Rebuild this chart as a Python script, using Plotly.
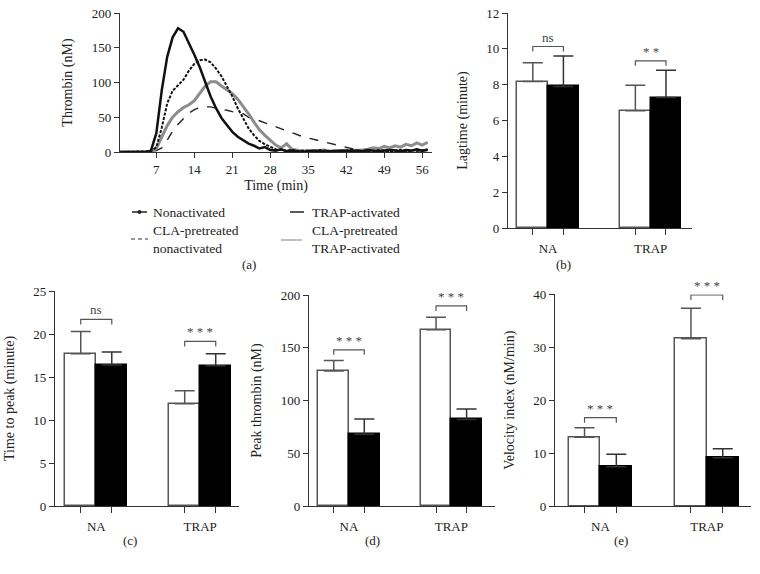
import plotly.graph_objects as go

# ---- panel (a): thrombin generation curves ----
time_min = list(range(0, 58))
trap_act = [0, 0, 0, 0, 0, 0, 2, 27, 89, 137, 165, 178, 173, 157, 140, 122, 101, 80, 63, 49,
            39, 29, 22, 17, 12, 9, 5, 7, 3, 2, 4, 1, 2, 1, 0, 1, 2, 1, 1, 0,
            1, 2, 1, 1, 2, 1, 3, 2, 1, 2, 3, 2, 1, 3, 2, 4, 2, 3]
non_act = [0, 0, 0, 0, 0, 0, 1, 7, 35, 70, 88, 96, 104, 117, 127, 132, 133, 129, 120, 109,
           95, 80, 63, 48, 34, 24, 16, 11, 7, 4, 3, 2, 3, 1, 2, 2, 1, 3, 2, 1,
           2, 1, 2, 3, 1, 2, 2, 1, 3, 2, 1, 2, 3, 1, 2, 3, 2, 4]
cla_non = [0, 0, 0, 0, 0, 0, 0, 2, 6, 17, 30, 40, 48, 56, 61, 64, 65, 65, 63, 62,
           60, 58, 56, 55, 50, 48, 45, 42, 39, 37, 34, 31, 28, 25, 22, 20, 18, 16, 14, 12,
           10, 8, 7, 5, 3, 2, 1, 2, 1, 2, 1, 2, 1, 1, 2, 1, 2, 1]
cla_trap = [0, 0, 0, 0, 0, 0, 0, 5, 22, 38, 50, 58, 64, 68, 74, 85, 95, 101, 101, 95,
            89, 84, 76, 66, 55, 43, 32, 24, 17, 10, 6, 12, 4, 2, 1, 2, 1, 2, 3, 1,
            2, 1, 3, 2, 2, 3, 4, 6, 5, 8, 6, 9, 7, 11, 9, 13, 10, 14]

# ---- bar panels: [NA, TRAP] means and upper SD ----
groups = ["NA", "TRAP"]
lag_ctrl, lag_ctrl_sd = [8.17, 6.55], [1.06, 1.42]
lag_cla, lag_cla_sd = [7.9, 7.28], [1.7, 1.52]
ttp_ctrl, ttp_ctrl_sd = [17.7, 11.9], [2.6, 1.5]
ttp_cla, ttp_cla_sd = [16.4, 16.3], [1.5, 1.4]
peak_ctrl, peak_ctrl_sd = [128, 167], [10, 12]
peak_cla, peak_cla_sd = [68, 82], [14.5, 10]
vel_ctrl, vel_ctrl_sd = [13.0, 31.6], [1.8, 5.8]
vel_cla, vel_cla_sd = [7.4, 9.1], [2.4, 1.7]

# significance brackets: (level, label) for NA and TRAP
sig_b = [(10.13, "ns"), (9.33, "* *")]
sig_c = [(21.7, "ns"), (19.15, "* * *")]
sig_d = [(148, "* * *"), (189.6, "* * *")]
sig_e = [(16.7, "* * *"), (39.9, "* * *")]

W, H = 760, 574
FONT = "Liberation Serif"
AX = "#333333"


def px(x):
    return x / W


def py(y):
    return 1 - y / H


fig = go.Figure()

# panel (a) lines
fig.add_trace(go.Scatter(x=time_min, y=cla_non, mode="lines", xaxis="x", yaxis="y",
                         line=dict(color="#222", width=1.4, dash="dash"), showlegend=False))
fig.add_trace(go.Scatter(x=time_min, y=cla_trap, mode="lines", xaxis="x", yaxis="y",
                         line=dict(color="#8c8c8c", width=3), showlegend=False))
fig.add_trace(go.Scatter(x=time_min, y=non_act, mode="lines", xaxis="x", yaxis="y",
                         line=dict(color="#111", width=2, dash="3px,1.5px"), showlegend=False))
fig.add_trace(go.Scatter(x=time_min, y=trap_act, mode="lines", xaxis="x", yaxis="y",
                         line=dict(color="#111", width=2.5), showlegend=False))

pos_ctrl = [0, 3.35]
pos_cla = [1, 4.35]


def bar_panel(n, ctrl, ctrl_sd, cla, cla_sd, sig, drop):
    xa, ya = "x%d" % n, "y%d" % n
    fig.add_trace(go.Bar(x=pos_ctrl, y=ctrl, width=1, xaxis=xa, yaxis=ya, showlegend=False,
                         marker=dict(color="white", line=dict(color="#555", width=1.5)),
                         error_y=dict(type="data", symmetric=False, array=ctrl_sd,
                                      arrayminus=[0, 0], color="#555", thickness=1.5, width=10)))
    fig.add_trace(go.Bar(x=pos_cla, y=cla, width=1, xaxis=xa, yaxis=ya, showlegend=False,
                         marker=dict(color="black", line=dict(color="black", width=1.5)),
                         error_y=dict(type="data", symmetric=False, array=cla_sd,
                                      arrayminus=[0, 0], color="#333", thickness=1.5, width=10)))
    for (lvl, lab), x0, x1 in zip(sig, pos_ctrl, pos_cla):
        fig.add_trace(go.Scatter(x=[x0, x0, x1, x1], y=[lvl - drop, lvl, lvl, lvl - drop],
                                 mode="lines", xaxis=xa, yaxis=ya, showlegend=False,
                                 line=dict(color="#555", width=1.2)))
        fig.add_annotation(x=(x0 + x1) / 2, y=lvl, xref=xa, yref=ya, text=lab,
                           showarrow=False, yanchor="bottom", yshift=0,
                           font=dict(family=FONT, size=13, color="#444"))


bar_panel(2, lag_ctrl, lag_ctrl_sd, lag_cla, lag_cla_sd, sig_b, 0.28)
bar_panel(3, ttp_ctrl, ttp_ctrl_sd, ttp_cla, ttp_cla_sd, sig_c, 0.6)
bar_panel(4, peak_ctrl, peak_ctrl_sd, peak_cla, peak_cla_sd, sig_d, 4.7)
bar_panel(5, vel_ctrl, vel_ctrl_sd, vel_cla, vel_cla_sd, sig_e, 0.95)

tickfont = dict(family=FONT, size=13, color="#222")
titlefont = dict(family=FONT, size=14, color="#222")
base_y = dict(showline=True, linecolor=AX, linewidth=1.2, ticks="outside", ticklen=5,
              tickcolor=AX, showgrid=False, zeroline=False, tickfont=tickfont, automargin=False)
base_xbar = dict(showline=True, linecolor=AX, linewidth=1.2, ticks="outside", ticklen=8,
                 tickcolor="rgba(0,0,0,0)", tickvals=[0.5, 3.85], ticktext=groups,
                 showgrid=False, zeroline=False, tickfont=tickfont, automargin=False,
                 minor=dict(tickvals=pos_ctrl + pos_cla, ticks="outside", ticklen=6,
                            tickcolor=AX, showgrid=False))

fig.update_layout(
    width=W, height=H, margin=dict(l=0, r=0, t=0, b=0),
    plot_bgcolor="white", paper_bgcolor="white", bargap=0,
    font=dict(family=FONT, color="#222"),
    xaxis=dict(domain=[px(120), px(432)], range=[0.3, 57.8], tickvals=list(range(7, 57, 7)),
               showline=True, linecolor=AX, linewidth=1.2, ticks="outside", ticklen=5,
               tickcolor=AX, showgrid=False, zeroline=False, tickfont=tickfont, automargin=False,
               title=dict(text="Time (min)", font=titlefont, standoff=4), anchor="y"),
    yaxis=dict(domain=[py(152), py(13)], range=[0, 200], tickvals=[0, 50, 100, 150, 200],
               title=dict(text="Thrombin (nM)", font=titlefont), anchor="x", **base_y),
    xaxis2=dict(domain=[px(508), px(692)], range=[-0.81, 5.2], anchor="y2", **base_xbar),
    yaxis2=dict(domain=[py(228), py(13)], range=[0, 12], tickvals=list(range(0, 13, 2)),
                title=dict(text="Lagtime (minute)", font=titlefont), anchor="x2", **base_y),
    xaxis3=dict(domain=[px(55), px(239)], range=[-0.83, 5.1], anchor="y3", **base_xbar),
    yaxis3=dict(domain=[py(506), py(291)], range=[0, 25], tickvals=list(range(0, 26, 5)),
                title=dict(text="Time to peak (minute)", font=titlefont), anchor="x3", **base_y),
    xaxis4=dict(domain=[px(309), px(495)], range=[-0.81, 5.28], anchor="y4", **base_xbar),
    yaxis4=dict(domain=[py(506), py(295)], range=[0, 200], tickvals=[0, 50, 100, 150, 200],
                title=dict(text="Peak thrombin (nM)", font=titlefont), anchor="x4", **base_y),
    xaxis5=dict(domain=[px(555), px(751)], range=[-0.93, 5.24], anchor="y5", **base_xbar),
    yaxis5=dict(domain=[py(506), py(294.4)], range=[0, 40], tickvals=[0, 10, 20, 30, 40],
                title=dict(text="Velocity index (nM/min)", font=titlefont), anchor="x5", **base_y),
)

# panel letters
for lab, x, y in [("(a)", 240, 264), ("(b)", 573, 264), ("(c)", 121, 540),
                  ("(d)", 372, 540), ("(e)", 630, 540)]:
    fig.add_annotation(x=px(x), y=py(y), xref="paper", yref="paper", text=lab,
                       yanchor="middle", showarrow=False,
                       font=dict(family=FONT, size=13, color="#222"))

# legend for panel (a), drawn by hand under the axis
legend_font = dict(family=FONT, size=13.5, color="#222")
fig.add_shape(type="line", xref="paper", yref="paper", x0=px(132), x1=px(147), y0=py(212), y1=py(212),
              line=dict(color="#222", width=1.5))
fig.add_shape(type="circle", xref="paper", yref="paper", x0=px(137.5), x1=px(141.5),
              y0=py(214), y1=py(210), fillcolor="#222", line=dict(color="#222", width=0))
fig.add_annotation(x=px(151), y=py(212), xref="paper", yref="paper", text="Nonactivated",
                   xanchor="left", yanchor="middle", showarrow=False, font=legend_font)
fig.add_shape(type="line", xref="paper", yref="paper", x0=px(290), x1=px(304), y0=py(212), y1=py(212),
              line=dict(color="#222", width=1.5))
fig.add_annotation(x=px(310), y=py(212), xref="paper", yref="paper", text="TRAP-activated",
                   xanchor="left", yanchor="middle", showarrow=False, font=legend_font)
fig.add_shape(type="line", xref="paper", yref="paper", x0=px(131), x1=px(148), y0=py(239), y1=py(239),
              line=dict(color="#333", width=1.2, dash="4px,3px"))
fig.add_annotation(x=px(151), y=py(239), xref="paper", yref="paper",
                   text="CLA-pretreated<br>nonactivated", align="left",
                   xanchor="left", yanchor="middle", showarrow=False, font=legend_font)
fig.add_shape(type="line", xref="paper", yref="paper", x0=px(281), x1=px(302), y0=py(240), y1=py(240),
              line=dict(color="#aaa", width=1.5))
fig.add_annotation(x=px(310), y=py(239), xref="paper", yref="paper",
                   text="CLA-pretreated<br>TRAP-activated", align="left",
                   xanchor="left", yanchor="middle", showarrow=False, font=legend_font)

# drop the default page margin so the figure sits at the window's top-left corner
fig.write_html("out.html", config={"displayModeBar": False},
               post_script="document.body.style.margin='0';")
